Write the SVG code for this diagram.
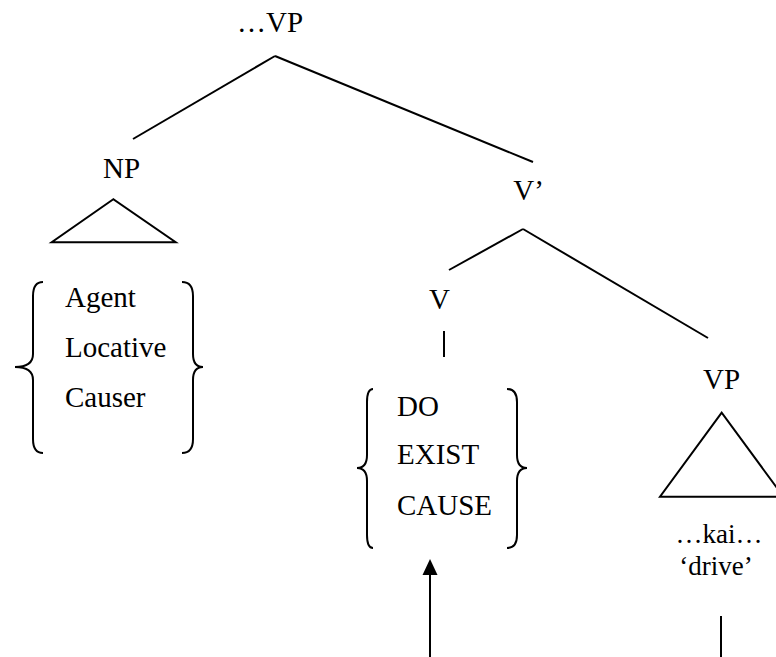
<svg xmlns="http://www.w3.org/2000/svg" width="776" height="657" viewBox="0 0 776 657">
  <style>
    .lbl { font-family: "Liberation Serif", "Times New Roman", serif; font-size: 29px; fill: #000; }
    .gloss { font-size: 27px; }
    .c { text-anchor: middle; }
    .edge { stroke: #000; stroke-width: 2; fill: none; stroke-linecap: butt; }
    .tri { stroke: #000; stroke-width: 2; fill: none; stroke-linejoin: miter; }
    .brace { stroke: #000; stroke-width: 2; fill: none; }
  </style>
  <rect width="776" height="657" fill="#fff"/>

  <!-- tree branches -->
  <g id="connectors">
    <line class="edge" x1="275" y1="56" x2="133" y2="139"/>
    <line class="edge" x1="275" y1="56" x2="533" y2="162"/>
    <line class="edge" x1="523" y1="229" x2="449" y2="270"/>
    <line class="edge" x1="523" y1="229" x2="708" y2="338"/>
    <line class="edge" x1="444" y1="331" x2="444" y2="357" stroke-width="3"/>
    <line class="edge" x1="721" y1="616" x2="721" y2="657" stroke-width="2.5"/>
    <line class="edge" x1="430" y1="657" x2="430" y2="575" stroke-width="2.5"/>
    <polygon points="430,559 422.5,575 437.5,575" fill="#000"/>
  </g>

  <g id="vp-top" class="lbl">
    <text class="c" x="270" y="32">…VP</text>
  </g>

  <g id="np" class="lbl">
    <text class="c" x="121.5" y="178">NP</text>
    <polygon class="tri" points="113.3,199.3 51.7,242.3 175.7,242.3"/>
  </g>

  <g id="np-roles" class="lbl">
    <path class="brace" d="M43,282 Q33,282 33,296 L33,354 Q33,367 15,367 Q33,367 33,380 L33,439 Q33,453 43,453"/>
    <path class="brace" d="M182,282 Q193,282 193,296 L193,354 Q193,367 203,367 Q193,367 193,380 L193,439 Q193,453 182,453"/>
    <text x="65" y="307">Agent</text>
    <text x="65" y="357">Locative</text>
    <text x="65" y="407">Causer</text>
  </g>

  <g id="v-bar" class="lbl">
    <text class="c" x="528.5" y="200">V’</text>
  </g>

  <g id="v" class="lbl">
    <text class="c" x="439.5" y="309">V</text>
  </g>

  <g id="v-heads" class="lbl">
    <path class="brace" d="M373,389 Q367,389 367,402 L367,455 Q367,468 357,468 Q367,468 367,481 L367,535 Q367,548 373,548"/>
    <path class="brace" d="M507,389 Q517,389 517,402 L517,455 Q517,468 527,468 Q517,468 517,481 L517,535 Q517,548 507,548"/>
    <text x="397" y="416">DO</text>
    <text x="397" y="464">EXIST</text>
    <text x="397" y="515">CAUSE</text>
  </g>

  <g id="vp-low" class="lbl">
    <text class="c" x="721.5" y="389">VP</text>
    <polygon class="tri" points="721.7,412.7 660,496.7 783.4,496.7"/>
    <text class="c gloss" x="719" y="543">…kai…</text>
    <text class="c gloss" x="716" y="575">‘drive’</text>
  </g>
</svg>
